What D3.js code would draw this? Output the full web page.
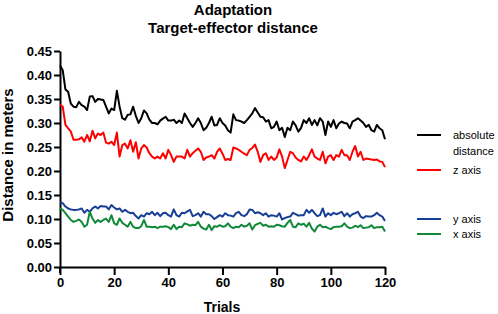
<!DOCTYPE html>
<html>
<head>
<meta charset="utf-8">
<script src="https://cdn.jsdelivr.net/npm/d3@7"></script>
<style>
  body { margin: 0; background: #fff; }
  svg { font-family: "Liberation Sans", Arial, sans-serif; }
  .axis path, .axis line { stroke: #000; stroke-width: 2; }
  .axis text { font-size: 13px; font-weight: bold; fill: #000; }
</style>
</head>
<body>
<svg width="498" height="314"></svg>
<script>
//data (trials 0..120)
const absolute = [0.42,0.41,0.37,0.365,0.34,0.334,0.333,0.344,0.337,0.334,0.327,0.355,0.356,0.344,0.35,0.349,0.348,0.334,0.32,0.33,
  0.327,0.367,0.334,0.31,0.307,0.317,0.318,0.334,0.315,0.30,0.31,0.326,0.32,0.307,0.30,0.30,0.297,0.305,0.309,0.313,
  0.305,0.305,0.307,0.30,0.305,0.30,0.32,0.31,0.30,0.292,0.30,0.31,0.30,0.285,0.29,0.30,0.313,0.295,0.296,0.31,
  0.30,0.295,0.285,0.28,0.318,0.306,0.305,0.303,0.30,0.306,0.313,0.32,0.331,0.322,0.313,0.312,0.303,0.306,0.289,0.292,
  0.303,0.285,0.29,0.271,0.29,0.285,0.303,0.295,0.282,0.29,0.306,0.30,0.31,0.296,0.306,0.295,0.31,0.303,0.275,0.303,
  0.292,0.306,0.289,0.299,0.303,0.30,0.299,0.289,0.303,0.306,0.31,0.305,0.30,0.292,0.296,0.285,0.282,0.296,0.289,0.285,0.266];
const zAxis = [0.338,0.334,0.296,0.289,0.282,0.265,0.265,0.266,0.27,0.261,0.275,0.262,0.284,0.268,0.278,0.275,0.28,0.259,0.257,0.261,
  0.254,0.28,0.23,0.254,0.257,0.247,0.264,0.24,0.26,0.226,0.247,0.254,0.249,0.237,0.23,0.226,0.23,0.226,0.237,0.226,
  0.244,0.233,0.219,0.23,0.23,0.23,0.226,0.244,0.23,0.237,0.242,0.247,0.24,0.223,0.228,0.23,0.233,0.226,0.24,0.247,
  0.236,0.223,0.225,0.223,0.249,0.247,0.244,0.24,0.236,0.233,0.244,0.248,0.255,0.24,0.219,0.233,0.237,0.223,0.23,0.223,
  0.228,0.245,0.23,0.206,0.223,0.24,0.237,0.228,0.223,0.22,0.23,0.223,0.233,0.245,0.23,0.226,0.223,0.24,0.216,0.23,
  0.233,0.223,0.233,0.23,0.244,0.233,0.233,0.223,0.24,0.252,0.23,0.24,0.223,0.226,0.225,0.224,0.223,0.224,0.22,0.219,0.208];
const yAxis = [0.135,0.133,0.126,0.122,0.12,0.119,0.119,0.12,0.122,0.113,0.119,0.115,0.122,0.126,0.122,0.127,0.126,0.126,0.12,0.129,
  0.124,0.12,0.122,0.115,0.119,0.115,0.112,0.113,0.106,0.101,0.108,0.105,0.112,0.11,0.115,0.108,0.113,0.106,0.112,0.113,
  0.108,0.105,0.12,0.108,0.105,0.113,0.112,0.116,0.119,0.106,0.108,0.112,0.105,0.115,0.11,0.11,0.106,0.10,0.104,0.108,
  0.105,0.112,0.108,0.107,0.105,0.112,0.115,0.108,0.106,0.11,0.12,0.119,0.112,0.114,0.112,0.108,0.112,0.105,0.108,0.107,
  0.105,0.112,0.099,0.102,0.104,0.105,0.113,0.11,0.107,0.108,0.108,0.119,0.113,0.119,0.112,0.106,0.108,0.122,0.105,0.112,
  0.108,0.113,0.11,0.112,0.115,0.106,0.112,0.105,0.11,0.112,0.115,0.105,0.102,0.106,0.105,0.105,0.108,0.113,0.108,0.105,0.096];
const xAxis = [0.122,0.119,0.112,0.105,0.098,0.094,0.096,0.099,0.094,0.084,0.088,0.115,0.101,0.092,0.098,0.094,0.098,0.101,0.094,0.108,
  0.091,0.088,0.101,0.092,0.088,0.084,0.094,0.084,0.081,0.081,0.085,0.098,0.084,0.084,0.083,0.084,0.081,0.084,0.084,0.085,
  0.083,0.079,0.088,0.079,0.084,0.083,0.091,0.089,0.086,0.088,0.087,0.094,0.084,0.08,0.078,0.088,0.077,0.085,0.084,0.087,
  0.084,0.085,0.091,0.084,0.081,0.084,0.083,0.088,0.084,0.086,0.091,0.078,0.087,0.09,0.092,0.086,0.088,0.084,0.085,0.084,
  0.088,0.087,0.085,0.084,0.092,0.098,0.084,0.083,0.091,0.088,0.09,0.084,0.092,0.08,0.074,0.084,0.088,0.083,0.084,0.081,
  0.079,0.083,0.084,0.084,0.085,0.091,0.084,0.081,0.082,0.086,0.083,0.087,0.081,0.082,0.083,0.087,0.081,0.083,0.083,0.084,0.074];

const seriesNames = ["absolute distance", "z axis", "y axis", "x axis"];
const seriesColors = ["#000000", "#ff0000", "#173f95", "#11883a"];
const yTicks = [0, 0.05, 0.10, 0.15, 0.20, 0.25, 0.30, 0.35, 0.40, 0.45];
const xTicks = [0, 20, 40, 60, 80, 100, 120];

const series = [absolute, zAxis, yAxis, xAxis];

//scales
const xScale = d3.scaleLinear().domain([0, 120]).range([60, 385]);
const yScale = d3.scaleLinear().domain([0, 0.45]).range([267, 51]);

const svg = d3.select("svg");

//title
svg.append("text")
  .attr("x", 233).attr("y", 15)
  .style("text-anchor", "middle").style("font-size", "15px").style("font-weight", "bold")
  .text("Adaptation");
svg.append("text")
  .attr("x", 233).attr("y", 33)
  .style("text-anchor", "middle").style("font-size", "15px").style("font-weight", "bold")
  .text("Target-effector distance");

//axes
svg.append("g")
  .attr("class", "axis")
  .attr("transform", "translate(60,0)")
  .call(d3.axisLeft(yScale).tickValues(yTicks).tickFormat(d3.format(".2f")).tickSize(6).tickSizeOuter(0).tickPadding(2));

svg.append("g")
  .attr("class", "axis")
  .attr("transform", "translate(0,267)")
  .call(d3.axisBottom(xScale).tickValues(xTicks).tickSize(8).tickSizeOuter(0).tickPadding(3));

// small overshoot of y axis under the x axis
svg.append("line")
  .attr("x1", 60).attr("x2", 60).attr("y1", 267).attr("y2", 273)
  .attr("stroke", "#000").attr("stroke-width", 2);

//axis labels
svg.append("text")
  .attr("x", 222).attr("y", 312)
  .style("text-anchor", "middle").style("font-size", "14px").style("font-weight", "bold")
  .text("Trials");
svg.append("text")
  .attr("transform", "translate(13,155) rotate(-90)")
  .style("text-anchor", "middle").style("font-size", "15px").style("font-weight", "bold")
  .text("Distance in meters");

//lines
const line = d3.line().x((d, i) => xScale(i)).y(d => yScale(d));
svg.selectAll(".series")
  .data(series)
  .enter()
  .append("path")
  .attr("class", "series")
  .attr("d", line)
  .attr("fill", "none")
  .attr("stroke", (d, i) => seriesColors[i])
  .attr("stroke-width", 2)
  .attr("stroke-linejoin", "round");

//legend
const legendY = [135, 170, 219, 234];
const legend = svg.selectAll(".legend")
  .data(seriesNames)
  .enter()
  .append("g")
  .attr("class", "legend")
  .attr("transform", (d, i) => "translate(0," + legendY[i] + ")");
legend.append("line")
  .attr("x1", 417).attr("x2", 441)
  .attr("stroke", (d, i) => seriesColors[i]).attr("stroke-width", 2);
legend.append("text")
  .attr("x", 453).attr("y", 4)
  .style("font-size", "11px")
  .each(function(d) {
    const words = d === "absolute distance" ? ["absolute", "distance"] : [d];
    d3.select(this).selectAll("tspan")
      .data(words).enter().append("tspan")
      .attr("x", 453).attr("dy", (w, j) => j === 0 ? 0 : 16)
      .text(w => w);
  });
</script>
</body>
</html>
